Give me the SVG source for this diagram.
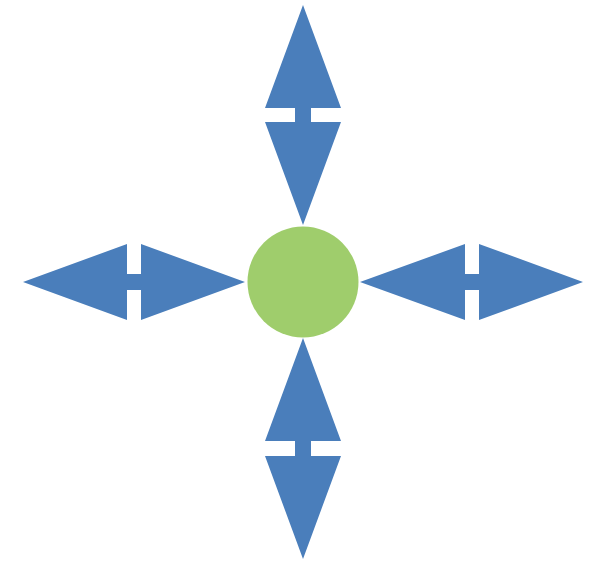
<svg xmlns="http://www.w3.org/2000/svg" width="592" height="581" viewBox="0 0 592 581">
<style>
.arrow{fill:#4A7EBB;stroke:none}
.hub{fill:#9FCD6C;stroke:none}
</style>
<rect width="592" height="581" fill="#ffffff"/>
<g id="connectors">
<path id="arrow-top" class="arrow" d="M303,5 L341,108 L311,108 L311,122 L341,122 L303,225 L265,122 L295,122 L295,108 L265,108 Z"/>
<path id="arrow-bottom" class="arrow" d="M303,338 L341,441 L311,441 L311,456 L341,456 L303,559 L265,456 L295,456 L295,441 L265,441 Z"/>
<path id="arrow-left" class="arrow" d="M23,282 L127,244 L127,274 L141,274 L141,244 L245,282 L141,320 L141,290 L127,290 L127,320 Z"/>
<path id="arrow-right" class="arrow" d="M360,282 L465,244 L465,274 L479,274 L479,244 L583,282 L479,320 L479,290 L465,290 L465,320 Z"/>
</g>
<g id="center">
<circle class="hub" cx="303" cy="282" r="55.5"/>
</g>
</svg>
